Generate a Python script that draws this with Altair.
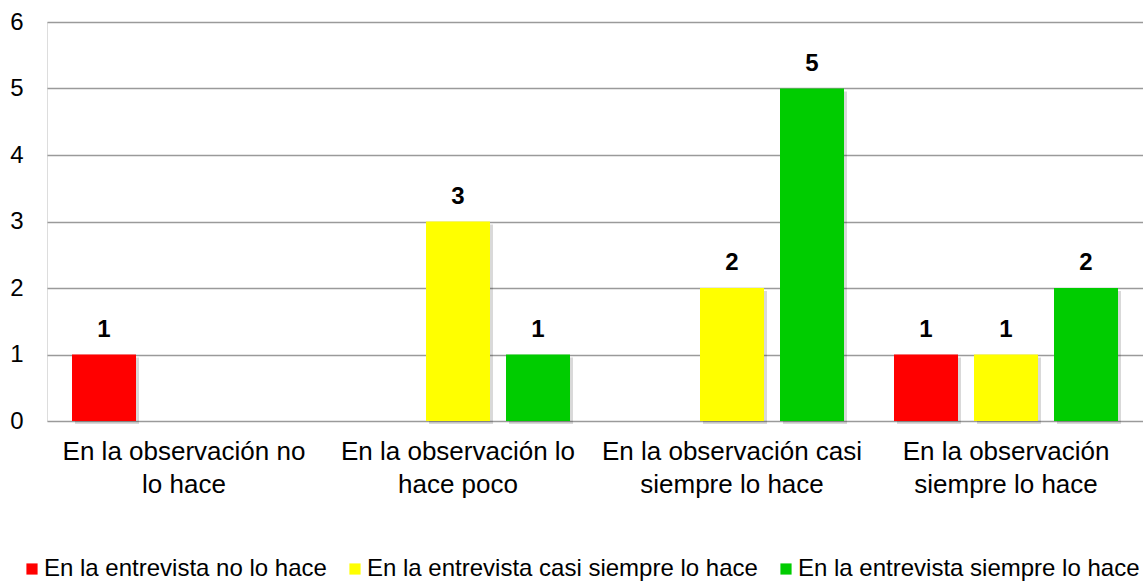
import altair as alt
import pandas as pd

cat_lines = [
    ["En la observación no", "lo hace"],
    ["En la observación lo", "hace poco"],
    ["En la observación casi", "siempre lo hace"],
    ["En la observación", "siempre lo hace"],
]
categories = [" ".join(l) for l in cat_lines]

series = [
    "En la entrevista no lo hace",
    "En la entrevista casi siempre lo hace",
    "En la entrevista siempre lo hace",
]
colors = ["#FF0000", "#FFFF00", "#00CC00"]

# values per series across the four categories (None = no bar)
no_lo_hace = [1, None, None, 1]
casi_siempre = [None, 3, 2, 1]
siempre = [None, 1, 5, 2]
values = [no_lo_hace, casi_siempre, siempre]

rows = []
for s, vals in zip(series, values):
    for c, v in zip(categories, vals):
        if v is not None:
            rows.append({"cat": c, "serie": s, "val": v})
df = pd.DataFrame(rows)

expr = ""
for c, l in zip(categories, cat_lines):
    expr += f"datum.value == '{c}' ? ['{l[0]}', '{l[1]}'] : "
expr += "datum.value"

FONT = "Liberation Sans"

x = alt.X("cat:N", sort=categories,
          scale=alt.Scale(paddingInner=0, paddingOuter=0),
          axis=alt.Axis(title=None, labelAngle=0, labelExpr=expr, ticks=False,
                        domain=False, labelFont=FONT, labelFontSize=26,
                        labelColor="#000000", labelLineHeight=33,
                        labelPadding=17, labelLimit=400))
xo = alt.XOffset("serie:N", sort=series,
                 scale=alt.Scale(type="band", domain=series, paddingInner=0.2,
                                 paddingOuter=0.3125))
xo_sh = alt.XOffset("serie:N", sort=series,
                    scale=alt.Scale(type="band", domain=series, paddingInner=0.2,
                                    paddingOuter=0.3125, range=[3, 277]))
y = alt.Y("val:Q", scale=alt.Scale(domain=[0, 6], nice=False),
          axis=alt.Axis(title=None, values=[0, 1, 2, 3, 4, 5, 6], ticks=False,
                        domain=False, labelFont=FONT, labelFontSize=24,
                        labelColor="#000000", labelPadding=24,
                        gridColor="#9a9a9a", gridWidth=1.5))

base = alt.Chart(df)

shadow = base.mark_bar(color="#000000", opacity=0.15, yOffset=3, y2Offset=3).encode(
    x=x, xOffset=xo_sh, y=y)

bars = base.mark_bar().encode(
    x=x, xOffset=xo, y=y,
    color=alt.Color("serie:N", sort=series,
                    scale=alt.Scale(domain=series, range=colors),
                    legend=alt.Legend(title=None, orient="none", direction="horizontal",
                                      legendX=-27, legendY=535,
                                      symbolType="square", symbolSize=125,
                                      symbolStrokeWidth=0, labelFont=FONT,
                                      labelFontSize=24, labelColor="#000000",
                                      labelLimit=600, columnPadding=16,
                                      labelOffset=0)),
)

labels = base.mark_text(font=FONT, fontSize=24, fontWeight="bold", color="#000000",
                        baseline="alphabetic", dy=-18).encode(
    x=x, xOffset=xo, y=y, text=alt.Text("val:Q"))

chart = alt.layer(shadow, alt.layer(bars, labels)).resolve_scale(
    xOffset="independent").properties(
    width=1096, height=399,
    autosize=alt.AutoSizeParams(type="none"),
    padding={"left": 47, "top": 22, "right": 0, "bottom": 162},
).configure_view(stroke=None).configure(background="#ffffff")

chart.save("out.html", embed_options={"renderer": "svg", "actions": False})
